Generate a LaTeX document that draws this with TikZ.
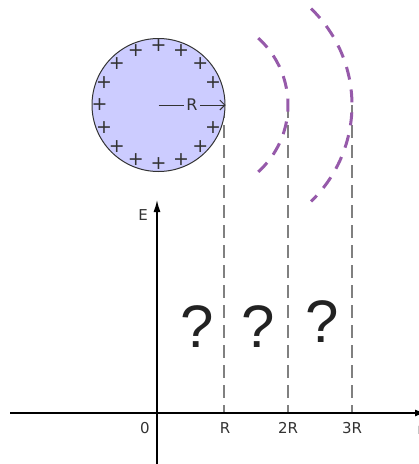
\documentclass[tikz,border=0pt]{standalone}
\usepackage{fontspec}
\setmainfont{DejaVu Sans}
\newfontfamily\qfont{Liberation Sans}
\usetikzlibrary{arrows.meta}
\definecolor{ball}{RGB}{204,204,255}
\definecolor{arcpurple}{RGB}{150,90,170}
\definecolor{guide}{RGB}{128,128,128}
\definecolor{txt}{RGB}{51,51,51}
\definecolor{qcol}{RGB}{34,34,34}
\begin{document}
\begin{tikzpicture}[x=1pt,y=-1pt,
  lbl/.style={font=\fontsize{15}{15}\selectfont, text=txt, inner sep=0pt},
  plus/.style={font=\fontsize{19}{19}\selectfont, text=txt, inner sep=0pt},
  qmark/.style={font=\qfont\fontsize{60}{60}\selectfont, text=qcol, inner sep=0pt},
  guideline/.style={guide, line width=2pt, dash pattern=on 13pt off 7pt},
  field/.style={arcpurple, line width=3pt, dash pattern=on 13pt off 10pt},
  axis/.style={black, line width=1.3pt}]
\useasboundingbox (0,0) rectangle (419,464);
\coordinate (c) at (158.5,105);
% guide lines
\coordinate (g1t) at (224,105); \coordinate (g1b) at (224,413);
\coordinate (g2t) at (288,105); \coordinate (g2b) at (288,413);
\coordinate (g3t) at (352,105); \coordinate (g3b) at (352,413);
\draw[guideline] (g1t) -- (g1b);
\draw[guideline] (g2t) -- (g2b);
\draw[guideline] (g3t) -- (g3b);
% sphere
\node[circle, draw=black!80, line width=1pt, fill=ball, minimum size=133pt, inner sep=0pt] (ball) at (c) {};
\foreach \a in {22.5,45,...,337.5}
  \node[plus] at ([shift={(\a:59)}]c) {+};
\draw[txt, line width=1pt, -{Straight Barb[length=5pt,width=10pt]}] (c) -- node[fill=ball, inner xsep=2pt, inner ysep=1pt, font=\fontsize{16}{16}\selectfont, text=txt] (rl) {R} (ball.east);
% field arcs
\coordinate (a1) at (198,105);
\coordinate (a2) at (218,105);
\draw[field] (a1) ++(-48:90) arc[start angle=-48, end angle=48, radius=90];
\draw[field] (a2) ++(-46:134) arc[start angle=-46, end angle=46, radius=134];
% axes
\coordinate (xl) at (10,413); \coordinate (xr) at (425,413);
\coordinate (yb) at (157,464); \coordinate (yt) at (157,200);
\draw[axis, -{Latex[length=10pt,width=7pt]}] (xl) -- (xr);
\draw[axis, -{Latex[length=12pt,width=7pt]}] (yb) -- (yt);
\node[lbl] (E) at (143,215) {E};
\node[lbl] (o) at (145,428) {0};
\node[lbl] (l1) at (225,428) {R};
\node[lbl] (l2) at (288,428) {2R};
\node[lbl] (l3) at (352,428) {3R};
\node[lbl, text=guide!70, anchor=west] (rr) at (417,430) {r};
% question marks
\node[qmark] (q1) at (197,327) {?};
\node[qmark] (q2) at (258,327) {?};
\node[qmark] (q3) at (322,322) {?};
\end{tikzpicture}
\end{document}
